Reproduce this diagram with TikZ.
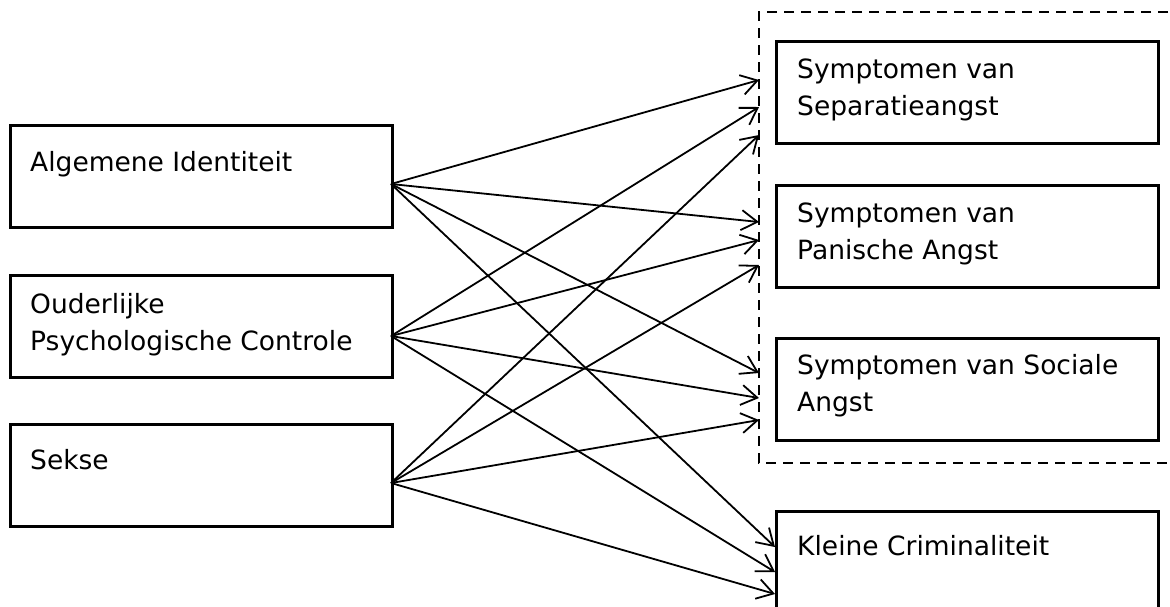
\documentclass[tikz,border=0pt]{standalone}
\usepackage{fontspec}
\setmainfont{DejaVu Sans}
\usetikzlibrary{arrows.meta}
\newcommand{\twoln}[2]{\vtop{\baselineskip=37pt\hbox{#1}\hbox{#2}}}
\tikzset{
  box/.style={draw=black, line width=2.6pt, rectangle, inner sep=0pt,
    minimum width=382pt, minimum height=102pt, anchor=north west},
  lbl/.style={anchor=base west, inner sep=0pt, font=\fontsize{26.5}{37}\selectfont},
  conn/.style={line width=1.8pt, -{Straight Barb[length=16pt,width=20pt,line width=1.8pt]}},
  group/.style={line width=2.6pt, dash pattern=on 10pt off 7pt}
}
\begin{document}
\begin{tikzpicture}[x=1pt,y=-1pt]
\useasboundingbox (0,0) rectangle (1170,606);
\clip (0,0) rectangle (1170,606);
\fill[white] (0,0) rectangle (1170,606);
% dashed group
\draw[group] (1185,12) -- (759,12) -- (759,463) -- (1185,463);
% left boxes
\node[box] (ai) at (9,124) {};
\node[box] (op) at (9,274) {};
\node[box] (sx) at (9,423) {};
\node[lbl] (ait) at (30,171) {Algemene Identiteit};
\node[lbl] (opt) at (30,313) {\twoln{Ouderlijke}{Psychologische Controle}};
\node[lbl] (sxt) at (30,469) {Sekse};
% right boxes
\node[box] (sep) at (775,40) {};
\node[box] (pan) at (775,184) {};
\node[box] (soc) at (775,337) {};
\node[box] (kc) at (775,510) {};
\node[lbl] (sept) at (797,78) {\twoln{Symptomen van}{Separatieangst}};
\node[lbl] (pant) at (797,222) {\twoln{Symptomen van}{Panische Angst}};
\node[lbl] (soct) at (797,374) {\twoln{Symptomen van Sociale}{Angst}};
\node[lbl] (kct) at (797,555) {Kleine Criminaliteit};
% sources
\coordinate (a0) at (391,184);
\coordinate (o0) at (391,336);
\coordinate (s0) at (391,483);
% tips
\coordinate (a1) at (759,80);
\coordinate (o1) at (759,107);
\coordinate (s1) at (759,135);
\coordinate (a2) at (759,222);
\coordinate (o2) at (759,240);
\coordinate (s2) at (759,265);
\coordinate (a3) at (759,373);
\coordinate (o3) at (759,398);
\coordinate (s3) at (759,420);
\coordinate (a4) at (775,547);
\coordinate (o4) at (775,572);
\coordinate (s4) at (775,594);
\foreach \p in {a,o,s}{
  \foreach \i in {1,2,3,4}{
    \draw[conn] (\p0) -- (\p\i);
  }
}
\end{tikzpicture}
\end{document}
